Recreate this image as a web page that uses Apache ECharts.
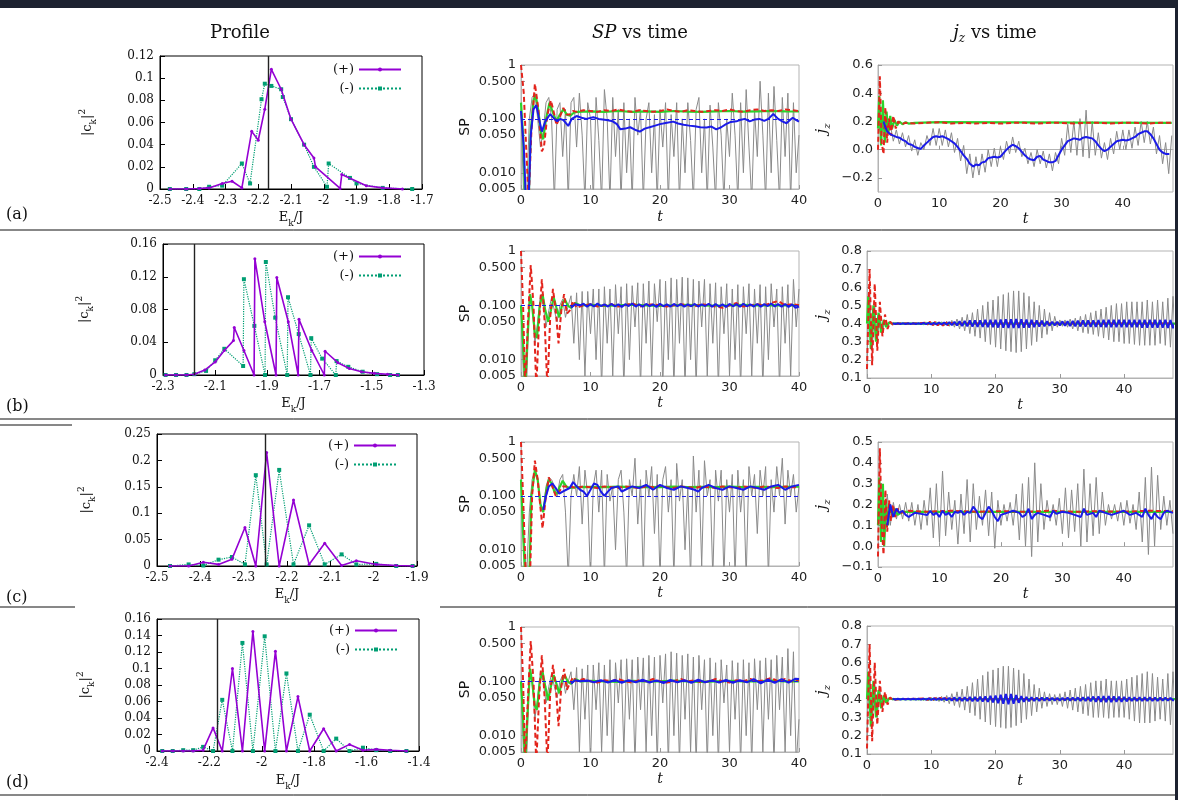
<!DOCTYPE html>
<html>
<head>
<meta charset="utf-8">
<title>Profile, SP and jz vs time</title>
<script src="https://cdn.jsdelivr.net/npm/echarts@6/dist/echarts.min.js"></script>
<style>
  html, body { margin: 0; padding: 0; background: #fff; }
  #main { width: 1178px; height: 800px; }
</style>
</head>
<body>
<div id="main"></div>
<script>
var chart = echarts.init(document.getElementById('main'));

// ---------- profile panels (energy, weight) ----------
var profEPlusA = [-2.47,-2.42,-2.38,-2.35,-2.31,-2.28,-2.25,-2.22,-2.2,-2.18,-2.16,-2.13,-2.1,-2.06,-2.03,-2.025,-1.95,-1.945,-1.87,-1.82,-1.76];
var profPlusA = [0,0,0.0005,0.001,0.005,0.007,0.001,0.052,0.044,0.072,0.108,0.09,0.063,0.04,0.028,0.02,0.0005,0.013,0.003,0.001,0];
var profEMinusA = [-2.47,-2.42,-2.38,-2.35,-2.31,-2.25,-2.225,-2.19,-2.18,-2.16,-2.13,-2.125,-2.1,-2.06,-2.03,-1.99,-1.985,-1.92,-1.9,-1.82,-1.73];
var profMinusA = [0,0,0,0.002,0.003,0.023,0.005,0.081,0.095,0.093,0.09,0.083,0.063,0.04,0.02,0.002,0.023,0.01,0.005,0.001,0];

var profEPlusB = [-2.29,-2.25,-2.21,-2.18,-2.14,-2.1,-2.065,-2.03,-2.027,-1.99,-1.951,-1.948,-1.91,-1.867,-1.864,-1.82,-1.782,-1.779,-1.73,-1.682,-1.679,-1.63,-1.586,-1.54,-1.49,-1.44,-1.4];
var profPlusB = [0,0,0,0.001,0.006,0.016,0.03,0.042,0.058,0.03,0,0.142,0.065,0,0.119,0.065,0,0.068,0.03,0,0.029,0.015,0.008,0.004,0.002,0.001,0];
var profEMinusB = [-2.29,-2.25,-2.21,-2.18,-2.135,-2.1,-2.065,-1.993,-1.99,-1.95,-1.909,-1.906,-1.87,-1.824,-1.821,-1.78,-1.735,-1.732,-1.69,-1.638,-1.635,-1.59,-1.535,-1.48,-1.43,-1.4];
var profMinusB = [0,0,0,0.001,0.005,0.018,0.032,0.011,0.117,0.06,0,0.138,0.07,0,0.095,0.05,0,0.045,0.02,0,0.017,0.01,0.004,0.001,0,0];

var profEC = [-2.47,-2.427,-2.393,-2.358,-2.327,-2.297,-2.272,-2.247,-2.218,-2.185,-2.149,-2.113,-2.074,-2.04,-1.994,-1.948,-1.91];
var profPlusC = [0,0,0.007,0.003,0.013,0.073,0,0.215,0,0.125,0.003,0.043,0.001,0.01,0.003,0.001,0];
var profMinusC = [0,0.003,0.001,0.012,0.017,0.003,0.172,0.003,0.182,0.003,0.077,0.003,0.022,0.003,0.004,0,0];

var profED = [-2.38,-2.34,-2.3,-2.262,-2.224,-2.186,-2.151,-2.112,-2.074,-2.034,-1.989,-1.948,-1.906,-1.862,-1.817,-1.764,-1.716,-1.665,-1.614,-1.563,-1.51,-1.448];
var profPlusD = [0,0,0,0,0.001,0.028,0,0.1,0,0.145,0,0.121,0,0.066,0,0.027,0,0.008,0.001,0.002,0.001,0];
var profMinusD = [0,0,0.001,0.001,0.005,0,0.062,0,0.131,0,0.139,0,0.094,0,0.044,0,0.015,0,0.004,0.001,0,0];

var vlineE = [-2.171, -2.176, -2.247, -2.173];

// ---------- tick labels ----------
var profXTicksA = [-2.5,-2.4,-2.3,-2.2,-2.1,-2,-1.9,-1.8,-1.7];
var profXTicksB = [-2.3,-2.1,-1.9,-1.7,-1.5,-1.3];
var profXTicksC = [-2.5,-2.4,-2.3,-2.2,-2.1,-2,-1.9];
var profXTicksD = [-2.4,-2.2,-2,-1.8,-1.6,-1.4];
var profYTicksA = [0,0.02,0.04,0.06,0.08,0.1,0.12];
var profYTicksB = [0,0.04,0.08,0.12,0.16];
var profYTicksC = [0,0.05,0.1,0.15,0.2,0.25];
var profYTicksD = [0,0.02,0.04,0.06,0.08,0.1,0.12,0.14,0.16];
var spYTicks = [0.005,0.01,0.05,0.1,0.5,1];
var tTicks = [0,10,20,30,40];
var jzYTicksA = [-0.2,0,0.2,0.4,0.6];
var jzYTicksB = [0.1,0.2,0.3,0.4,0.5,0.6,0.7,0.8];
var jzYTicksC = [-0.1,0,0.1,0.2,0.3,0.4,0.5];
var jzYTicksD = [0.1,0.2,0.3,0.4,0.5,0.6,0.7,0.8];

// ---------- SP vs time: gray curves sampled every 0.4 from t = 0 ----------
var spGrayDt = 0.4;
var spGrayA = [0.15,0.003,0.003,0.1,0.25,0.3,0.1,0.03,0.06,0.2,
  0.25,0.1,0.003,0.15,0.2,0.02,0.15,0.003,0.2,0.25,
  0.03,0.3,0.05,0.003,0.2,0.1,0.003,0.25,0.04,0.003,
  0.35,0.1,0.003,0.25,0.02,0.15,0.003,0.2,0.01,0.1,
  0.003,0.25,0.05,0.15,0.003,0.1,0.2,0.01,0.12,0.003,
  0.15,0.03,0.2,0.003,0.12,0.02,0.2,0.003,0.1,0.01,
  0.2,0.04,0.003,0.15,0.25,0.01,0.1,0.003,0.18,0.03,
  0.003,0.2,0.05,0.003,0.1,0.02,0.3,0.05,0.003,0.2,
  0.01,0.35,0.03,0.003,0.15,0.02,0.5,0.05,0.003,0.3,
  0.01,0.4,0.04,0.003,0.25,0.02,0.3,0.003,0.2,0.01,0.05];
var spGrayB = [0.1,0.003,0.003,0.15,0.1,0.02,0.05,0.15,0.1,0.04,
  0.08,0.14,0.08,0.05,0.1,0.13,0.06,0.1,0.15,0.02,
  0.17,0.01,0.18,0.005,0.18,0.03,0.2,0.01,0.2,0.003,
  0.22,0.02,0.2,0.005,0.24,0.03,0.22,0.003,0.25,0.01,
  0.23,0.04,0.26,0.003,0.25,0.02,0.28,0.005,0.25,0.05,
  0.3,0.003,0.28,0.01,0.32,0.003,0.3,0.02,0.33,0.003,
  0.32,0.01,0.3,0.003,0.28,0.04,0.3,0.005,0.25,0.02,
  0.26,0.003,0.22,0.03,0.25,0.005,0.2,0.01,0.24,0.003,
  0.22,0.03,0.25,0.005,0.2,0.02,0.24,0.003,0.22,0.01,
  0.25,0.04,0.2,0.003,0.22,0.02,0.24,0.005,0.3,0.04,0.2];
var spGrayC = [0.2,0.02,0.003,0.05,0.2,0.3,0.2,0.06,0.05,0.15,
  0.22,0.2,0.15,0.1,0.2,0.25,0.05,0.003,0.1,0.25,
  0.1,0.35,0.03,0.3,0.1,0.003,0.15,0.3,0.05,0.3,
  0.003,0.25,0.08,0.15,0.01,0.2,0.3,0.05,0.003,0.2,
  0.1,0.5,0.03,0.2,0.003,0.3,0.1,0.35,0.02,0.25,
  0.003,0.2,0.35,0.05,0.2,0.003,0.4,0.08,0.2,0.01,
  0.15,0.003,0.55,0.05,0.3,0.005,0.45,0.1,0.2,0.003,
  0.3,0.08,0.3,0.003,0.2,0.05,0.25,0.003,0.3,0.05,
  0.2,0.003,0.35,0.1,0.25,0.02,0.3,0.1,0.35,0.003,
  0.2,0.05,0.35,0.1,0.5,0.03,0.3,0.1,0.25,0.05,0.15];
var spGrayD = [0.1,0.003,0.003,0.15,0.1,0.02,0.05,0.15,0.1,0.04,
  0.08,0.14,0.08,0.05,0.1,0.13,0.06,0.1,0.15,0.03,
  0.18,0.005,0.17,0.02,0.2,0.003,0.2,0.03,0.22,0.005,
  0.2,0.01,0.25,0.003,0.22,0.04,0.25,0.005,0.26,0.02,
  0.25,0.003,0.28,0.03,0.27,0.005,0.3,0.01,0.28,0.003,
  0.3,0.04,0.32,0.003,0.35,0.01,0.33,0.003,0.3,0.02,
  0.32,0.005,0.28,0.003,0.3,0.03,0.25,0.003,0.27,0.01,
  0.22,0.003,0.25,0.04,0.2,0.005,0.24,0.02,0.22,0.003,
  0.25,0.01,0.22,0.003,0.26,0.03,0.24,0.005,0.27,0.02,
  0.25,0.003,0.3,0.03,0.28,0.005,0.4,0.01,0.35,0.003,0.02];

// ---------- SP vs time: coloured curves [t, SP] ----------
var spRedA = [[0,1],[0.4,0.3],[0.8,0.02],[1.1,0.003],[1.5,0.06],[2.0,0.45],[2.5,0.15],[3.0,0.025],[3.3,0.03],[3.8,0.12],[4.3,0.22],[4.8,0.12],[5.1,0.077],[5.6,0.11],[6.1,0.16],[6.6,0.12],[7.0,0.12],[7.5,0.14],[8,0.135],[9,0.145],[10,0.14],[11,0.135],[12,0.145],[13,0.14],[14,0.15],[15,0.14],[16,0.135],[17,0.145],[18,0.14],[19,0.135],[20,0.14],[21,0.15],[22,0.14],[23,0.135],[24,0.145],[25,0.14],[26,0.135],[27,0.14],[28,0.145],[29,0.14],[30,0.15],[31,0.14],[32,0.135],[33,0.145],[34,0.15],[35,0.14],[36,0.145],[37,0.14],[38,0.15],[39,0.145],[40,0.14]];
var spGreenA = [[0,0.2],[0.3,0.05],[0.6,0.003],[1.1,0.003],[1.4,0.06],[1.8,0.22],[2.1,0.28],[2.5,0.14],[2.9,0.05],[3.2,0.042],[3.6,0.1],[4.1,0.2],[4.6,0.13],[5.1,0.09],[5.6,0.12],[6.1,0.15],[6.6,0.12],[7.1,0.115],[7.6,0.13],[8,0.135],[10,0.138],[12,0.135],[14,0.14],[16,0.135],[18,0.138],[20,0.135],[22,0.14],[24,0.136],[26,0.135],[28,0.138],[30,0.14],[32,0.136],[34,0.138],[36,0.14],[38,0.138],[40,0.137]];
var spBlueA = [[0,0.14],[0.4,0.03],[0.7,0.003],[1.1,0.003],[1.4,0.05],[1.8,0.15],[2.2,0.18],[2.6,0.1],[3.0,0.058],[3.5,0.09],[4.2,0.123],[4.8,0.1],[5.2,0.09],[5.6,0.1],[6.1,0.095],[6.8,0.074],[7.3,0.1],[8.0,0.113],[8.7,0.105],[9.4,0.1],[10.4,0.107],[11.2,0.1],[12.3,0.095],[13.2,0.09],[13.8,0.08],[14.3,0.064],[15,0.066],[15.7,0.07],[16.4,0.063],[17.1,0.058],[17.8,0.066],[18.5,0.07],[19.3,0.075],[20,0.08],[21,0.085],[21.9,0.089],[22.6,0.082],[23.4,0.078],[24.2,0.075],[25,0.073],[25.8,0.07],[26.7,0.069],[27.4,0.072],[28.1,0.064],[28.8,0.07],[29.5,0.08],[30.2,0.088],[31,0.09],[31.5,0.095],[32.2,0.1],[32.9,0.09],[33.6,0.097],[34.3,0.1],[35,0.092],[35.6,0.1],[36.3,0.123],[37,0.1],[37.6,0.09],[38.2,0.083],[38.7,0.095],[39.1,0.105],[39.6,0.095],[40,0.089]];

var spRedB = [[0,1],[0.3,0.1],[0.6,0.003],[1.0,0.05],[1.4,0.55],[1.8,0.1],[2.2,0.003],[2.6,0.05],[3.0,0.3],[3.4,0.05],[3.8,0.003],[4.2,0.06],[4.6,0.2],[5.0,0.08],[5.4,0.02],[5.8,0.08],[6.2,0.16],[6.6,0.07],[7.0,0.08],[7.5,0.12],[8,0.09],[9,0.1],[10,0.105],[11,0.095],[12,0.1],[13,0.105],[14,0.095],[15,0.1],[16,0.11],[17,0.095],[18,0.1],[19,0.105],[20,0.1],[21,0.095],[22,0.1],[23,0.105],[24,0.1],[25,0.095],[26,0.105],[27,0.1],[28,0.095],[29,0.09],[30,0.1],[31,0.11],[32,0.095],[33,0.1],[34,0.105],[35,0.1],[36,0.11],[37,0.12],[38,0.1],[39,0.105],[40,0.1]];
var spGreenB = [[0,0.1],[0.3,0.02],[0.6,0.003],[0.9,0.02],[1.3,0.16],[1.6,0.1],[2.0,0.03],[2.3,0.025],[2.7,0.1],[3.1,0.16],[3.5,0.08],[3.9,0.05],[4.3,0.08],[4.7,0.14],[5.1,0.09],[5.5,0.06],[5.9,0.1],[6.3,0.13],[6.7,0.1],[7.2,0.09],[7.8,0.11],[8.5,0.1],[10,0.102],[12,0.098],[14,0.1],[16,0.103],[18,0.1],[20,0.098],[22,0.1],[24,0.102],[26,0.1],[28,0.099],[30,0.1],[32,0.102],[34,0.1],[36,0.101],[38,0.1],[40,0.1]];
var spBlueB = [[7.2,0.09],[7.8,0.105],[8.5,0.1],[9,0.107],[9.5,0.094],[10,0.105],[10.5,0.095],[11,0.108],[11.5,0.097],[12,0.104],[12.5,0.095],[13,0.106],[13.5,0.096],[14,0.104],[14.5,0.093],[15,0.105],[15.5,0.097],[16,0.108],[16.5,0.095],[17,0.104],[17.5,0.094],[18,0.106],[18.5,0.097],[19,0.104],[19.5,0.093],[20,0.107],[20.5,0.096],[21,0.104],[21.5,0.095],[22,0.106],[22.5,0.097],[23,0.105],[23.5,0.094],[24,0.104],[24.5,0.096],[25,0.106],[25.5,0.095],[26,0.104],[26.5,0.097],[27,0.107],[27.5,0.094],[28,0.105],[28.5,0.095],[29,0.104],[29.5,0.093],[30,0.106],[30.5,0.096],[31,0.105],[31.5,0.094],[32,0.107],[32.5,0.096],[33,0.104],[33.5,0.095],[34,0.106],[34.5,0.094],[35,0.105],[35.5,0.097],[36,0.108],[36.5,0.095],[37,0.105],[37.5,0.094],[38,0.106],[38.5,0.093],[39,0.104],[39.5,0.09],[40,0.095]];

var spRedC = [[0,1],[0.3,0.1],[0.7,0.003],[1.3,0.003],[1.6,0.1],[2.0,0.45],[2.4,0.2],[2.8,0.06],[3.1,0.025],[3.5,0.08],[4.0,0.22],[4.5,0.15],[5.0,0.1],[5.5,0.12],[6.0,0.15],[7,0.15],[8,0.14],[9,0.15],[10,0.145],[11,0.14],[12,0.15],[13,0.145],[14,0.14],[15,0.15],[16,0.145],[17,0.14],[18,0.15],[19,0.145],[20,0.155],[21,0.145],[22,0.14],[23,0.15],[24,0.145],[25,0.14],[26,0.15],[27,0.145],[28,0.14],[29,0.15],[30,0.145],[31,0.14],[32,0.15],[33,0.145],[34,0.14],[35,0.15],[36,0.145],[37,0.14],[38,0.15],[39,0.145],[40,0.145]];
var spGreenC = [[0,0.2],[0.3,0.02],[0.6,0.003],[1.2,0.003],[1.5,0.1],[2.0,0.3],[2.4,0.2],[2.8,0.07],[3.2,0.05],[3.6,0.12],[4.0,0.2],[4.4,0.17],[4.8,0.12],[5.2,0.11],[5.6,0.15],[6,0.19],[6.5,0.15],[7,0.14],[8,0.145],[10,0.147],[12,0.145],[14,0.148],[16,0.145],[18,0.147],[20,0.145],[22,0.148],[24,0.145],[26,0.147],[28,0.145],[30,0.148],[32,0.145],[34,0.147],[36,0.145],[38,0.147],[40,0.148]];
var spBlueC = [[3.2,0.055],[3.6,0.1],[4.0,0.15],[4.5,0.17],[5.0,0.14],[5.5,0.11],[6.0,0.12],[6.5,0.13],[7.0,0.14],[7.5,0.18],[8.0,0.15],[8.5,0.13],[9.0,0.12],[9.5,0.1],[10,0.13],[10.5,0.17],[11,0.16],[11.5,0.12],[12,0.1],[12.5,0.12],[13,0.14],[14,0.15],[14.5,0.12],[15,0.13],[16,0.15],[17,0.14],[18,0.16],[19,0.13],[20,0.16],[21,0.14],[22,0.13],[23,0.15],[24,0.14],[25,0.13],[25.5,0.12],[26,0.14],[27,0.16],[28,0.14],[29,0.13],[30,0.15],[31,0.14],[32,0.13],[33,0.15],[34,0.14],[35,0.13],[36,0.15],[37,0.16],[38,0.13],[39,0.15],[40,0.16]];

var spRedD = [[0,1],[0.3,0.1],[0.6,0.003],[1.0,0.05],[1.4,0.55],[1.8,0.1],[2.2,0.003],[2.6,0.05],[3.0,0.3],[3.4,0.05],[3.8,0.003],[4.2,0.06],[4.6,0.2],[5.0,0.08],[5.4,0.015],[5.8,0.08],[6.2,0.17],[6.6,0.07],[7.0,0.09],[7.5,0.12],[8,0.1],[9,0.11],[10,0.1],[11,0.095],[12,0.105],[13,0.1],[14,0.11],[15,0.1],[16,0.095],[17,0.105],[18,0.1],[19,0.11],[20,0.1],[21,0.095],[22,0.1],[23,0.11],[24,0.1],[25,0.105],[26,0.095],[27,0.1],[28,0.11],[29,0.1],[30,0.095],[31,0.105],[32,0.1],[33,0.11],[34,0.1],[35,0.105],[36,0.115],[37,0.1],[38,0.11],[39,0.1],[40,0.105]];
var spGreenD = [[0,0.1],[0.3,0.02],[0.6,0.003],[0.9,0.02],[1.3,0.17],[1.6,0.1],[2.0,0.035],[2.3,0.03],[2.7,0.1],[3.1,0.15],[3.5,0.08],[3.9,0.045],[4.3,0.08],[4.7,0.13],[5.1,0.09],[5.5,0.06],[5.9,0.1],[6.3,0.13],[6.7,0.1],[7.2,0.09],[7.8,0.11],[8.5,0.1],[10,0.102],[12,0.1],[14,0.098],[16,0.102],[18,0.1],[20,0.1],[22,0.103],[24,0.1],[26,0.098],[28,0.1],[30,0.102],[32,0.1],[34,0.1],[36,0.103],[38,0.1],[40,0.1]];
var spBlueD = [[7.2,0.09],[7.8,0.105],[8.5,0.1],[9.5,0.104],[10.5,0.096],[11.5,0.105],[12.5,0.095],[13.5,0.106],[14.5,0.094],[15.5,0.105],[16.5,0.096],[17.5,0.107],[18.5,0.095],[19.5,0.104],[20.5,0.093],[21.5,0.106],[22.5,0.096],[23.5,0.105],[24.5,0.094],[25.5,0.107],[26.5,0.096],[27.5,0.104],[28.5,0.095],[29.5,0.106],[30.5,0.094],[31.5,0.105],[32.5,0.096],[33.5,0.11],[34.5,0.092],[35.5,0.108],[36.5,0.094],[37.5,0.11],[38.5,0.095],[39.5,0.112],[40,0.11]];
var spRefLine = 0.1;

// ---------- jz vs time: gray curves ----------
var jzGrayDtA = 0.5;
var jzGrayA = [0.2,0.1,0.2,0.1,0.18,0.06,0.14,0.04,0.12,0.02,
  0.1,-0.01,0.07,-0.04,0.05,0.0,0.1,0.03,0.15,0.03,
  0.15,0.03,0.14,0.02,0.12,-0.02,0.08,-0.08,0.03,-0.17,
  -0.03,-0.2,-0.05,-0.18,-0.03,-0.16,0.0,-0.12,0.01,-0.12,
  0.02,-0.07,0.06,-0.03,0.09,-0.02,0.06,-0.05,0.01,-0.1,
  -0.02,-0.12,0.0,-0.1,-0.01,-0.13,-0.03,-0.15,-0.02,-0.1,
  0.08,-0.04,0.18,-0.02,0.2,-0.04,0.22,-0.05,0.28,-0.06,
  0.2,-0.04,0.12,-0.06,0.05,-0.07,0.08,-0.03,0.13,0.0,
  0.14,0.0,0.14,0.01,0.16,0.03,0.2,0.05,0.2,0.04,
  0.16,-0.03,0.1,-0.1,0.05,-0.17,0.1];
var jzGrayDtB = 0.4;
var jzGrayB = [0.2,0.6,0.25,0.5,0.3,0.45,0.35,0.42,0.38,0.41,
  0.395,0.405,0.397,0.403,0.397,0.403,0.397,0.403,0.396,0.404,
  0.395,0.405,0.394,0.407,0.392,0.408,0.39,0.41,0.39,0.41,
  0.388,0.413,0.385,0.418,0.38,0.425,0.37,0.435,0.36,0.45,
  0.345,0.46,0.33,0.48,0.32,0.5,0.3,0.52,0.285,0.53,
  0.27,0.55,0.26,0.56,0.25,0.57,0.245,0.58,0.24,0.58,
  0.245,0.57,0.26,0.55,0.28,0.52,0.3,0.5,0.32,0.48,
  0.34,0.46,0.36,0.44,0.38,0.42,0.385,0.42,0.38,0.425,
  0.37,0.43,0.36,0.44,0.35,0.45,0.345,0.46,0.34,0.47,
  0.33,0.48,0.32,0.49,0.31,0.5,0.3,0.51,0.3,0.51,
  0.29,0.52,0.29,0.52,0.285,0.52,0.28,0.52,0.28,0.53,
  0.28,0.52,0.28,0.53,0.29,0.52,0.28,0.54,0.27,0.55,0.3];
var jzGrayDtC = 0.5;
var jzGrayC = [0.1,0.3,0.0,0.25,0.1,0.21,0.13,0.2,0.13,0.21,
  0.12,0.21,0.1,0.2,0.08,0.22,0.1,0.28,0.04,0.3,
  0.02,0.36,0.05,0.26,0.08,0.22,0.01,0.25,0.06,0.32,
  0.02,0.3,0.08,0.24,0.1,0.27,0.05,0.26,-0.01,0.22,
  0.1,0.2,0.12,0.21,0.1,0.25,0.03,0.3,0.0,0.33,
  -0.05,0.4,0.02,0.3,0.08,0.22,0.12,0.2,0.1,0.23,
  0.06,0.28,0.04,0.27,0.07,0.3,0.0,0.37,0.02,0.3,
  0.05,0.33,0.06,0.26,0.1,0.2,0.13,0.2,0.12,0.21,
  0.1,0.22,0.11,0.2,0.08,0.26,0.02,0.33,-0.04,0.38,
  0.0,0.34,0.08,0.24,0.1,0.22,0.06];
var jzGrayDtD = 0.4;
var jzGrayD = [0.2,0.6,0.25,0.5,0.3,0.45,0.35,0.42,0.38,0.41,
  0.396,0.404,0.397,0.403,0.397,0.403,0.397,0.403,0.396,0.404,
  0.395,0.405,0.393,0.407,0.391,0.409,0.39,0.412,0.387,0.415,
  0.383,0.42,0.375,0.43,0.365,0.44,0.355,0.455,0.34,0.47,
  0.325,0.49,0.31,0.51,0.29,0.53,0.275,0.55,0.26,0.56,
  0.25,0.57,0.245,0.58,0.24,0.58,0.245,0.57,0.255,0.56,
  0.27,0.54,0.29,0.51,0.31,0.48,0.33,0.46,0.35,0.44,
  0.36,0.43,0.37,0.425,0.37,0.43,0.36,0.44,0.35,0.45,
  0.34,0.46,0.33,0.47,0.32,0.48,0.31,0.49,0.3,0.5,
  0.3,0.5,0.3,0.51,0.295,0.5,0.3,0.5,0.3,0.5,
  0.3,0.51,0.29,0.52,0.28,0.53,0.27,0.54,0.27,0.55,
  0.27,0.54,0.28,0.52,0.29,0.51,0.28,0.54,0.26,0.55,0.28];

// ---------- jz vs time: blue curves ----------
var jzBlueA = [[0.9,0.2],[1.2,0.16],[1.5,0.13],[2,0.11],[2.5,0.1],[3,0.09],[3.5,0.085],[4,0.07],[4.5,0.06],[5,0.04],[5.5,0.035],[6,0.02],[6.5,0.012],[7,0.005],[7.5,0.03],[8,0.05],[8.5,0.07],[9,0.09],[9.5,0.095],[10,0.09],[10.5,0.095],[11,0.085],[11.5,0.075],[12,0.06],[12.5,0.045],[13,0.02],[13.5,-0.01],[14,-0.04],[14.5,-0.065],[15,-0.1],[15.6,-0.12],[16,-0.105],[16.5,-0.11],[17,-0.09],[17.5,-0.085],[18,-0.06],[18.5,-0.055],[19,-0.05],[19.5,-0.055],[20,-0.05],[20.5,-0.025],[21,0.0],[21.5,0.02],[22,0.035],[22.5,0.025],[23,0.01],[23.5,-0.015],[24,-0.04],[24.5,-0.06],[25,-0.07],[25.5,-0.075],[26,-0.05],[26.5,-0.045],[27,-0.07],[27.5,-0.08],[28,-0.09],[28.5,-0.09],[29,-0.08],[29.5,-0.04],[30,0.0],[30.5,0.03],[31,0.06],[31.5,0.07],[32,0.08],[32.5,0.075],[33,0.07],[33.5,0.085],[34,0.09],[34.5,0.085],[35,0.08],[35.5,0.06],[36,0.03],[36.5,0.005],[37,-0.01],[37.5,0.0],[38,0.02],[38.5,0.04],[39,0.06],[39.5,0.065],[40,0.07],[40.5,0.065],[41,0.07],[41.5,0.08],[42,0.09],[42.5,0.11],[43,0.12],[43.5,0.13],[44,0.13],[44.5,0.11],[45,0.08],[45.5,0.04],[46,0.0],[46.5,-0.02],[47,-0.03],[47.6,-0.03]];
// rows (b) and (d): sampled every 0.4 starting at t = 4
var jzBlueT0 = 4;
var jzBlueB = [0.402,0.398,0.402,0.398,0.402,0.398,0.402,0.398,0.402,0.398,
  0.402,0.398,0.403,0.397,0.404,0.396,0.404,0.396,0.405,0.395,
  0.406,0.394,0.407,0.392,0.41,0.39,0.413,0.387,0.415,0.385,
  0.417,0.383,0.418,0.382,0.418,0.382,0.42,0.38,0.42,0.38,
  0.42,0.378,0.422,0.377,0.423,0.376,0.424,0.376,0.425,0.376,
  0.424,0.377,0.422,0.378,0.42,0.38,0.418,0.383,0.416,0.385,
  0.413,0.388,0.41,0.39,0.41,0.39,0.412,0.388,0.413,0.386,
  0.415,0.385,0.416,0.384,0.417,0.383,0.418,0.382,0.418,0.382,
  0.419,0.381,0.42,0.38,0.42,0.38,0.42,0.38,0.42,0.38,
  0.42,0.38,0.42,0.38,0.42,0.38,0.42,0.378,0.421,0.378,
  0.421,0.378,0.42,0.378,0.42,0.377,0.421,0.376,0.42,0.375,0.415];
var jzBlueC = [[1.5,0.1],[2,0.2],[2.5,0.14],[3,0.18],[3.5,0.16],[4,0.17],[4.5,0.15],[5,0.14],[5.5,0.15],[6,0.16],[7,0.155],[8,0.15],[8.5,0.17],[9,0.15],[9.5,0.16],[10,0.14],[10.5,0.17],[11,0.15],[11.5,0.16],[12,0.14],[12.5,0.165],[13,0.16],[13.5,0.17],[14,0.15],[14.5,0.165],[15,0.16],[15.5,0.19],[16,0.17],[16.5,0.14],[17,0.13],[17.5,0.16],[18,0.19],[18.5,0.17],[19,0.14],[19.5,0.12],[20,0.15],[21,0.16],[22,0.17],[23,0.16],[23.5,0.14],[24,0.15],[24.5,0.18],[25,0.13],[25.5,0.15],[26,0.16],[27,0.15],[28,0.14],[28.5,0.17],[29,0.155],[30,0.165],[31,0.16],[32,0.15],[33,0.14],[33.5,0.18],[34,0.15],[35,0.16],[35.5,0.14],[36,0.17],[37,0.16],[38,0.15],[39,0.16],[40,0.17],[41,0.15],[42,0.16],[43,0.14],[43.5,0.18],[44,0.15],[44.5,0.13],[45,0.16],[45.5,0.14],[46,0.13],[46.5,0.16],[47,0.17],[48,0.16]];
var jzBlueD = [0.402,0.398,0.402,0.398,0.402,0.398,0.402,0.398,0.402,0.398,
  0.402,0.398,0.403,0.397,0.404,0.396,0.404,0.396,0.405,0.395,
  0.406,0.394,0.407,0.392,0.409,0.391,0.41,0.39,0.41,0.39,
  0.411,0.389,0.412,0.388,0.413,0.387,0.415,0.385,0.418,0.382,
  0.42,0.378,0.424,0.375,0.428,0.372,0.428,0.375,0.422,0.38,
  0.416,0.386,0.412,0.389,0.41,0.39,0.409,0.391,0.408,0.392,
  0.408,0.392,0.407,0.393,0.407,0.393,0.407,0.393,0.408,0.392,
  0.408,0.392,0.409,0.391,0.41,0.39,0.412,0.388,0.414,0.386,
  0.415,0.385,0.416,0.384,0.416,0.384,0.415,0.385,0.414,0.386,
  0.412,0.388,0.41,0.39,0.41,0.39,0.41,0.39,0.41,0.39,
  0.41,0.39,0.409,0.391,0.408,0.392,0.408,0.392,0.407,0.393,0.405];

// ---------- jz vs time: red / green curves [t, jz] ----------
var jzRedA = [[0,0.0],[0.3,0.52],[0.6,0.05],[0.9,-0.03],[1.2,0.3],[1.5,0.05],[1.8,0.22],[2.1,0.1],[2.5,0.24],[2.9,0.15],[3.3,0.2],[3.8,0.18],[4.5,0.19],[6,0.185],[8,0.19],[10,0.195],[12,0.185],[14,0.19],[16,0.185],[18,0.19],[20,0.185],[22,0.19],[24,0.19],[26,0.185],[28,0.19],[30,0.19],[32,0.185],[34,0.19],[36,0.19],[38,0.185],[40,0.19],[42,0.19],[44,0.185],[46,0.19],[48,0.19]];
var jzGreenA = [[0,0.15],[0.2,0.38],[0.5,0.03],[0.8,0.35],[1.1,0.05],[1.4,0.27],[1.7,0.12],[2.0,0.24],[2.3,0.15],[2.7,0.21],[3.1,0.17],[3.5,0.2],[4,0.18],[4.5,0.195],[5,0.185],[6,0.19],[10,0.195],[48,0.19]];
var jzRedB = [[0,0.15],[0.4,0.7],[0.8,0.17],[1.2,0.62],[1.6,0.25],[2.0,0.52],[2.4,0.33],[2.8,0.45],[3.2,0.37],[3.6,0.41],[4.0,0.395],[5,0.4],[6,0.4],[7,0.4],[8,0.4],[9,0.405],[9.4,0.395],[9.8,0.41],[10.2,0.39],[10.6,0.41],[11,0.39],[11.4,0.412],[11.8,0.388],[12.2,0.41],[12.6,0.39],[13,0.405],[13.4,0.4],[48,0.4]];
var jzGreenB = [[0,0.4],[0.2,0.55],[0.6,0.26],[1.0,0.5],[1.4,0.3],[1.8,0.46],[2.2,0.35],[2.6,0.42],[3.0,0.38],[3.4,0.405],[4,0.4],[48,0.4]];
var jzRedC = [[0,-0.05],[0.3,0.47],[0.6,0.1],[0.9,-0.04],[1.2,0.27],[1.5,0.07],[1.8,0.22],[2.1,0.12],[2.4,0.2],[2.8,0.14],[3.2,0.18],[3.8,0.16],[5,0.17],[8,0.165],[12,0.17],[16,0.165],[20,0.168],[24,0.165],[28,0.17],[32,0.165],[36,0.168],[40,0.165],[44,0.17],[48,0.168]];
var jzGreenC = [[0,0.1],[0.2,0.33],[0.5,0.02],[0.8,0.3],[1.0,0.0],[1.3,0.22],[1.6,0.1],[1.9,0.2],[2.3,0.14],[2.7,0.18],[3.2,0.15],[4,0.165],[48,0.165]];
var jzRedD = [[0,0.13],[0.4,0.7],[0.8,0.17],[1.2,0.6],[1.6,0.26],[2.0,0.5],[2.4,0.33],[2.8,0.44],[3.2,0.37],[3.6,0.41],[4,0.395],[5,0.4],[9,0.403],[9.4,0.396],[9.8,0.406],[10.2,0.394],[10.6,0.407],[11,0.393],[11.4,0.408],[11.8,0.392],[12.2,0.406],[12.6,0.395],[13,0.402],[13.4,0.4],[48,0.4]];
var jzGreenD = [[0,0.4],[0.2,0.55],[0.6,0.25],[1.0,0.5],[1.4,0.3],[1.8,0.45],[2.2,0.35],[2.6,0.42],[3.0,0.38],[3.4,0.405],[4,0.4],[48,0.4]];

// ---------- layout ----------
var profBox = [[160,56,262,133],[163,244,261,131],[157,434,260,132],[157,619,262,132]];
var spBox = [[521,65,278,124],[521,251,278,125],[521,442,278,124],[521,627,278,125]];
var jzBox = [[878,65,295,127],[867,251,306,127],[878,442,295,125],[867,626,306,128]];
var jzXMax = [48.2, 47.6, 48, 47.6];
var jzYRange = [[-0.3,0.6],[0.1,0.8],[-0.1,0.5],[0.1,0.8]];
var profXRange = [[-2.5,-1.7],[-2.3,-1.3],[-2.5,-1.9],[-2.4,-1.4]];
var profYMax = [0.12,0.16,0.25,0.16];
var profXTicks = [profXTicksA, profXTicksB, profXTicksC, profXTicksD];
var profYTicks = [profYTicksA, profYTicksB, profYTicksC, profYTicksD];
var jzYTicks = [jzYTicksA, jzYTicksB, jzYTicksC, jzYTicksD];
var profXNameGap = [17,17,17,20], profYNameGap = [62,68,60,61];
var spXNameGap = [20,15,16,15], jzXNameGap = [17,13,17,13], jzYNameGap = [46,35,46,35];
var legendRight = [771,771,776,775], legendTop = [58,245,434,619];

var PURPLE = '#9400d3', TEAL = '#009e73', GRAY = '#8a8a8a', RED = '#e3241c', GREEN = '#2ad42a', BLUE = '#1b1be8';
var SERIF = 'DejaVu Serif', SANS = 'DejaVu Sans';

function zip(xs, ys) { return xs.map(function (x, i) { return [x, ys[i]]; }); }
function sampled(vs, dt, t0) {
  t0 = t0 || 0;
  return vs.map(function (v, i) { return [Math.round((t0 + i * dt) * 100) / 100, v]; });
}
function plain(v) { return String(Math.round(v * 1000) / 1000); }
function jzFmt(v) { return (v < -1e-9 ? '\u2212' : '') + Math.abs(v).toFixed(1); }

var profData = [
  [zip(profEPlusA, profPlusA), zip(profEMinusA, profMinusA)],
  [zip(profEPlusB, profPlusB), zip(profEMinusB, profMinusB)],
  [zip(profEC, profPlusC), zip(profEC, profMinusC)],
  [zip(profED, profPlusD), zip(profED, profMinusD)]
];
var spData = [
  [sampled(spGrayA, spGrayDt), spGreenA, spRedA, spBlueA],
  [sampled(spGrayB, spGrayDt), spGreenB, spRedB, spBlueB],
  [sampled(spGrayC, spGrayDt), spGreenC, spRedC, spBlueC],
  [sampled(spGrayD, spGrayDt), spGreenD, spRedD, spBlueD]
];
var jzData = [
  [sampled(jzGrayA, jzGrayDtA), jzGreenA, jzRedA, jzBlueA],
  [sampled(jzGrayB, jzGrayDtB), jzGreenB, jzRedB, sampled(jzBlueB, jzGrayDtB, jzBlueT0)],
  [sampled(jzGrayC, jzGrayDtC), jzGreenC, jzRedC, jzBlueC],
  [sampled(jzGrayD, jzGrayDtD), jzGreenD, jzRedD, sampled(jzBlueD, jzGrayDtD, jzBlueT0)]
];

var grids = [], xAxes = [], yAxes = [], series = [], legends = [];

function addGrid(b, border) {
  grids.push({ left: b[0], top: b[1], width: b[2], height: b[3], show: true, borderColor: border, borderWidth: 1 });
  return grids.length - 1;
}

// profile panels
for (var p = 0; p < 4; p++) {
  var gi = addGrid(profBox[p], '#000');
  xAxes.push({
    gridIndex: gi, type: 'value', min: profXRange[p][0], max: profXRange[p][1],
    axisLine: { show: true, lineStyle: { color: '#000' } },
    axisTick: { show: true, inside: true, length: 5, customValues: profXTicks[p], lineStyle: { color: '#000' } },
    axisLabel: { customValues: profXTicks[p], formatter: plain, fontFamily: SERIF, fontSize: 12, color: '#111', margin: 6 },
    splitLine: { show: false },
    name: 'E{s|k}/J', nameLocation: 'middle', nameGap: profXNameGap[p],
    nameTextStyle: { fontFamily: SERIF, fontSize: 13, color: '#111', lineHeight: 20,
      rich: { s: { fontFamily: SERIF, fontSize: 9, color: '#111', verticalAlign: 'bottom', lineHeight: 20 } } }
  });
  yAxes.push({
    gridIndex: gi, type: 'value', min: 0, max: profYMax[p],
    axisLine: { show: true, lineStyle: { color: '#000' } },
    axisTick: { show: true, inside: true, length: 5, customValues: profYTicks[p], lineStyle: { color: '#000' } },
    axisLabel: { customValues: profYTicks[p], formatter: plain, fontFamily: SERIF, fontSize: 12, color: '#111', margin: 6 },
    splitLine: { show: false },
    name: '|c{s|k}|{p|2}', nameLocation: 'middle', nameGap: profYNameGap[p], nameRotate: 90,
    nameTextStyle: { fontFamily: SERIF, fontSize: 13, color: '#111', lineHeight: 20,
      rich: { s: { fontFamily: SERIF, fontSize: 9, color: '#111', verticalAlign: 'bottom', lineHeight: 20 },
              p: { fontFamily: SERIF, fontSize: 9, color: '#111', verticalAlign: 'top', lineHeight: 20 } } }
  });
  series.push({
    name: '(+)', type: 'line', xAxisIndex: gi, yAxisIndex: gi, data: profData[p][0],
    color: PURPLE, lineStyle: { width: 1.6 }, symbol: 'circle', symbolSize: 3, showSymbol: true,
    z: 3, animation: false,
    markLine: { silent: true, symbol: 'none', label: { show: false }, animation: false,
      lineStyle: { color: '#222', type: 'solid', width: 1.4 }, data: [{ xAxis: vlineE[p] }] }
  });
  series.push({
    name: '(-)', type: 'line', xAxisIndex: gi, yAxisIndex: gi, data: profData[p][1],
    color: TEAL, lineStyle: { width: 1.2, type: 'dotted' }, symbol: 'rect', symbolSize: 4, showSymbol: true,
    z: 2, animation: false
  });
  legends.push({
    data: ['(+)', '(-)'], orient: 'vertical', align: 'right', right: legendRight[p], top: legendTop[p],
    itemWidth: 42, itemHeight: 5, itemGap: 6, selectedMode: false,
    textStyle: { fontFamily: SERIF, fontSize: 13, color: '#111' }
  });
}

function timeXAxis(gi, max, gap) {
  return {
    gridIndex: gi, type: 'value', min: 0, max: max,
    axisLine: { show: true, lineStyle: { color: '#b3b3b3' } },
    axisTick: { show: true, inside: true, length: 4, customValues: tTicks, lineStyle: { color: '#999' } },
    axisLabel: { customValues: tTicks, fontFamily: SANS, fontSize: 13, color: '#222', margin: 5 },
    splitLine: { show: false },
    name: 't', nameLocation: 'middle', nameGap: gap,
    nameTextStyle: { fontFamily: SERIF, fontStyle: 'italic', fontSize: 14, color: '#111', lineHeight: 16 }
  };
}

function lineSeries(gi, data, kind) {
  var s = { type: 'line', xAxisIndex: gi, yAxisIndex: gi, data: data, showSymbol: false, symbol: 'none',
    animation: false, silent: true, clip: true };
  if (kind === 'gray') { s.color = GRAY; s.lineStyle = { width: 1 }; s.z = 1; }
  if (kind === 'green') { s.color = GREEN; s.lineStyle = { width: 2.2 }; s.z = 2; }
  if (kind === 'red') { s.color = RED; s.lineStyle = { width: 2, type: [5, 3] }; s.z = 3; }
  if (kind === 'blue') { s.color = BLUE; s.lineStyle = { width: 2 }; s.z = 4; }
  return s;
}
var kinds = ['gray', 'green', 'red', 'blue'];

// SP panels
for (var r = 0; r < 4; r++) {
  var g = addGrid(spBox[r], '#b3b3b3');
  xAxes.push(timeXAxis(g, 40, spXNameGap[r]));
  yAxes.push({
    gridIndex: g, type: 'log', logBase: 10, min: 0.005, max: 1,
    axisLine: { show: true, lineStyle: { color: '#b3b3b3' } },
    axisTick: { show: true, inside: true, length: 4, customValues: spYTicks, lineStyle: { color: '#999' } },
    axisLabel: { customValues: spYTicks, fontFamily: SANS, fontSize: 13, color: '#222', margin: 5,
      formatter: function (v) { return v >= 0.999 ? '1' : v.toFixed(3); } },
    splitLine: { show: false },
    name: 'SP', nameLocation: 'middle', nameGap: 48, nameRotate: 90,
    nameTextStyle: { fontFamily: SANS, fontSize: 14, color: '#111', lineHeight: 16 }
  });
  for (var k = 0; k < 4; k++) {
    var s = lineSeries(g, spData[r][k], kinds[k]);
    if (kinds[k] === 'blue') {
      s.markLine = { silent: true, symbol: 'none', label: { show: false }, animation: false,
        lineStyle: { color: BLUE, type: [4, 3], width: 1.2 }, data: [{ yAxis: spRefLine }] };
    }
    series.push(s);
  }
}

// jz panels
for (var q = 0; q < 4; q++) {
  var h = addGrid(jzBox[q], '#b3b3b3');
  xAxes.push(timeXAxis(h, jzXMax[q], jzXNameGap[q]));
  yAxes.push({
    gridIndex: h, type: 'value', min: jzYRange[q][0], max: jzYRange[q][1],
    axisLine: { show: true, lineStyle: { color: '#b3b3b3' } },
    axisTick: { show: true, inside: true, length: 4, customValues: jzYTicks[q], lineStyle: { color: '#999' } },
    axisLabel: { customValues: jzYTicks[q], formatter: jzFmt, fontFamily: SANS, fontSize: 13, color: '#222', margin: 5 },
    splitLine: { show: false },
    name: 'j{s|z}', nameLocation: 'middle', nameGap: jzYNameGap[q], nameRotate: 90,
    nameTextStyle: { fontFamily: SERIF, fontStyle: 'italic', fontSize: 15, color: '#111', lineHeight: 20,
      rich: { s: { fontFamily: SERIF, fontStyle: 'italic', fontSize: 10, color: '#111', verticalAlign: 'bottom', lineHeight: 20 } } }
  });
  for (var m = 0; m < 4; m++) series.push(lineSeries(h, jzData[q][m], kinds[m]));
}

// titles, panel letters, separators
var graphics = [
  { type: 'rect', shape: { x: 0, y: 0, width: 1178, height: 8 }, style: { fill: '#1d2230' } },
  { type: 'rect', shape: { x: 1175, y: 0, width: 3, height: 800 }, style: { fill: '#1d2230' } },
  { type: 'text', x: 240, y: 33, style: { text: 'Profile', fontFamily: SERIF, fontSize: 18, fill: '#111', align: 'center', verticalAlign: 'middle', textAlign: 'center', textVerticalAlign: 'middle' } },
  { type: 'text', x: 640, y: 33, style: { text: '{i|SP} vs time', fontFamily: SERIF, fontSize: 18, fill: '#111', align: 'center', verticalAlign: 'middle', textAlign: 'center', textVerticalAlign: 'middle',
      rich: { i: { fontFamily: SERIF, fontStyle: 'italic', fontSize: 18, fill: '#111' } } } },
  { type: 'text', x: 995, y: 33, style: { text: '{i|j}{s|z} vs time', fontFamily: SERIF, fontSize: 18, fill: '#111', align: 'center', verticalAlign: 'middle', textAlign: 'center', textVerticalAlign: 'middle', lineHeight: 24,
      rich: { i: { fontFamily: SERIF, fontStyle: 'italic', fontSize: 18, fill: '#111', lineHeight: 24 },
              s: { fontFamily: SERIF, fontStyle: 'italic', fontSize: 12, fill: '#111', verticalAlign: 'bottom', lineHeight: 24 } } } }
];
var panelLetters = ['(a)', '(b)', '(c)', '(d)'];
var letterY = [215, 407, 598, 783];
panelLetters.forEach(function (txt, i) {
  graphics.push({ type: 'text', x: 6, y: letterY[i], style: { text: txt, fontFamily: SERIF, fontSize: 16, fill: '#111', verticalAlign: 'middle', textVerticalAlign: 'middle' } });
});
var rules = [[0, 1175, 230], [0, 1175, 419], [0, 72, 425], [0, 75, 607], [440, 1175, 607], [0, 1175, 795]];
rules.forEach(function (l) {
  graphics.push({ type: 'line', shape: { x1: l[0], y1: l[2], x2: l[1], y2: l[2] }, style: { stroke: '#111', lineWidth: 1 } });
});

chart.setOption({
  animation: false,
  backgroundColor: '#fff',
  grid: grids,
  xAxis: xAxes,
  yAxis: yAxes,
  legend: legends,
  series: series,
  graphic: graphics
});
</script>
</body>
</html>
